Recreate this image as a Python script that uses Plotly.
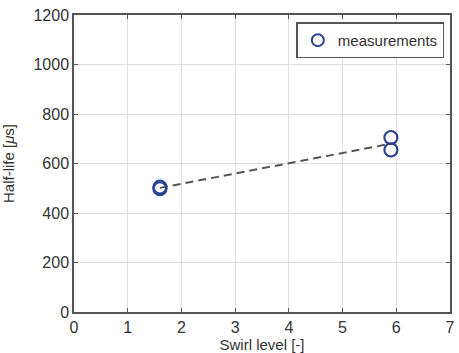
import numpy as np
import plotly.graph_objects as go

swirl = [1.6, 1.6, 5.9, 5.9]
half_life = [505, 498, 705, 655]
x_ticks = [0, 1, 2, 3, 4, 5, 6, 7]
y_ticks = [0, 200, 400, 600, 800, 1000, 1200]

coef = np.polyfit(swirl, half_life, 1)
fit_x = np.array([min(swirl), max(swirl)])
fit_y = np.polyval(coef, fit_x)

fig = go.Figure()
fig.add_trace(go.Scatter(x=fit_x, y=fit_y, mode="lines",
                         line=dict(color="#555555", width=2, dash="8px,5px"),
                         showlegend=False, hoverinfo="skip"))
fig.add_trace(go.Scatter(x=swirl, y=half_life, mode="markers", name="measurements",
                         marker=dict(symbol="circle-open", size=13, color="#2b4393",
                                     line=dict(width=2.2, color="#2b4393"))))

axis_common = dict(showline=True, linecolor="#555555", linewidth=1.5, mirror="ticks",
                   ticks="inside", ticklen=4, tickcolor="#555555",
                   showgrid=True, gridcolor="#dddddd", gridwidth=1, zeroline=False,
                   automargin=False,
                   tickfont=dict(size=16, color="#333333"))

fig.update_xaxes(range=[0, 7], tickvals=x_ticks,
                 title=dict(text="Swirl level [-]", font=dict(size=15, color="#333333")),
                 **axis_common)
fig.update_yaxes(range=[0, 1200], tickvals=y_ticks,
                 title=dict(text="Half-life [<i>μ</i>s]", font=dict(size=15, color="#333333")),
                 **axis_common)

fig.update_layout(
    width=459, height=353,
    margin=dict(l=74, r=9, t=15, b=41),
    paper_bgcolor="white", plot_bgcolor="white",
    font=dict(family="Liberation Sans, Arial, sans-serif", color="#333333"),
    legend=dict(x=0.985, y=0.975, xanchor="right", yanchor="top",
                bordercolor="#555555", borderwidth=1.5, bgcolor="white",
                font=dict(size=15, color="#333333"),
                itemsizing="constant", tracegroupgap=0),
)

fig.write_html("out.html", config={"displayModeBar": False},
               post_script="document.body.style.margin='0';")
